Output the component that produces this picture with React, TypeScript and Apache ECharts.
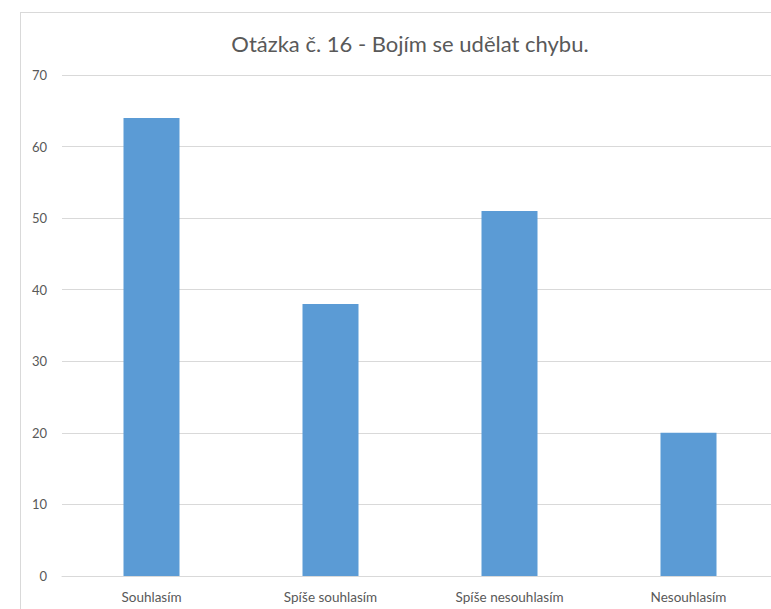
import React, { useEffect, useRef } from "react";
import * as echarts from "echarts";

const categories = ["Souhlasím", "Spíše souhlasím", "Spíše nesouhlasím", "Nesouhlasím"];
const values = [64, 38, 51, 20];
const titleText = "Otázka č. 16 - Bojím se udělat chybu.";

export default function App() {
  const ref = useRef<HTMLDivElement>(null);
  useEffect(() => {
    if (!ref.current) return;
    const chart = echarts.init(ref.current, null, { renderer: "svg" });
    chart.setOption({
      animation: false,
      title: {
        text: titleText,
        left: "center",
        top: 14,
        textStyle: { fontFamily: "Lato", fontSize: 22, fontWeight: "normal", color: "#595959" },
      },
      grid: { left: 41, right: 21, top: 62, bottom: 75, containLabel: false },
      xAxis: {
        type: "category",
        data: categories,
        axisLine: { show: true, lineStyle: { color: "#d9d9d9" } },
        axisTick: { show: false },
        axisLabel: { color: "#595959", fontFamily: "Lato", fontSize: 13.5, margin: 14 },
      },
      yAxis: {
        type: "value",
        min: 0,
        max: 70,
        interval: 10,
        axisLine: { show: false },
        axisTick: { show: false },
        splitLine: { lineStyle: { color: "#d9d9d9" } },
        axisLabel: { color: "#595959", fontFamily: "Lato", fontSize: 13, margin: 15 },
      },
      series: [
        {
          type: "bar",
          data: values,
          barWidth: 56,
          itemStyle: { color: "#5B9BD5" },
        },
      ],
    });
    return () => chart.dispose();
  }, []);
  return (
    <div style={{ position: "fixed", left: 0, top: 0, width: 771, height: 609, overflow: "hidden", background: "#fff" }}>
      <div
        style={{
          position: "absolute",
          left: 20,
          top: 12,
          width: 780,
          height: 640,
          border: "1px solid #d9d9d9",
          boxSizing: "border-box",
        }}
      >
        <div ref={ref} style={{ width: 778, height: 638 }} />
      </div>
    </div>
  );
}
